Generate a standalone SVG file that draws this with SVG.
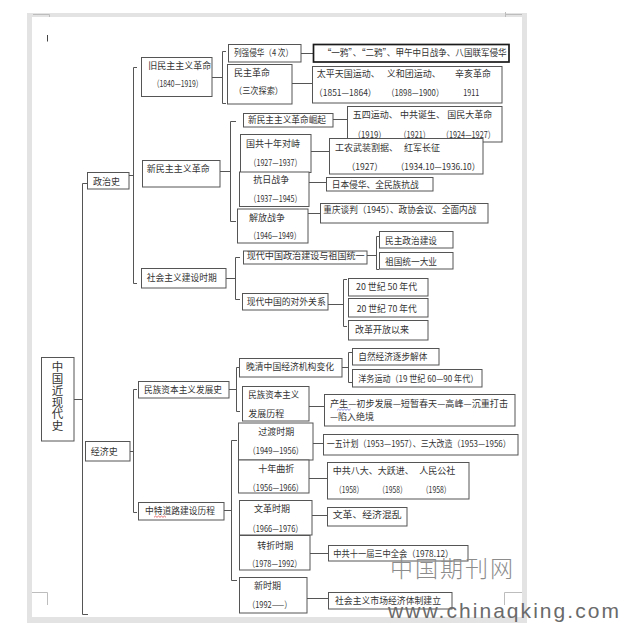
<svg xmlns="http://www.w3.org/2000/svg" width="619" height="627" viewBox="0 0 619 627">
<defs>
<style>
.b{fill:#fff;stroke:#555;stroke-width:1}
.bb{fill:#fff;stroke:#1a1a1a;stroke-width:1.7}
.c{fill:none;stroke:#555;stroke-width:1}
.t{font-family:"Noto Sans CJK SC","Noto Sans",sans-serif;font-size:9px;fill:#333}
.r{font-family:"Noto Sans CJK SC","Noto Sans",sans-serif;font-size:11.5px;fill:#333;writing-mode:vertical-rl;letter-spacing:0.3px}
.m{fill:none;stroke:#bdbdbd;stroke-width:1}
</style>
</defs>
<rect width="619" height="627" fill="#fff"/>
<g id="page">
<rect x="27" y="13" width="500" height="610" fill="#e3e3e3"/>
<rect x="32" y="17" width="490" height="600" fill="#fff"/>
<path class="m" d="M33,14.5H49.5V17"/>
<path class="m" d="M505.5,12V17M505,14.5H522"/>
<path class="m" d="M32,592.5H47.5V605"/>
<path class="m" d="M522,592.5H504.5V605"/>
<path d="M47.5,35V41.5" stroke="#444" stroke-width="1"/>
</g>

<g id="connectors">
<path class="c" d="M87,183.5H82.5V614.5H88M74,399.5H82.5"/>
<path class="c" d="M137,67.5H133.5V283.5H137M129,175.5H133.5"/>
<path class="c" d="M137,389.5H133.5V512.5H137M130,451.5H133.5"/>
<path class="c" d="M226,51.5H222.5V103.5H226M212,77.5H222.5"/>
<path class="c" d="M301,53.5H313M292,83.5H312"/>
<path class="c" d="M236,121.5H230.5V221.5H236M220,171.5H230.5"/>
<path class="c" d="M333,119.5H347M311,151.5H329M309,182.5H326M308,213.5H320"/>
<path class="c" d="M240,257.5H235.5V299.5H240M226,278.5H235.5"/>
<path class="c" d="M379,236.5H376.5V269.5H379M367,255.5H376.5"/>
<path class="c" d="M347,279.5H343.5V326.5H347M328,304.5H343.5"/>
<path class="c" d="M240,367.5H236.5V411.5H240M229,389.5H236.5"/>
<path class="c" d="M352,352.5H348.5V382.5H352M342,367.5H348.5"/>
<path class="c" d="M309,406.5H324"/>
<path class="c" d="M237,440.5H231.5V580.5H237M224,510.5H231.5"/>
<path class="c" d="M313,443.5H323M309,478.5H327M312,515.5H327M310,553.5H328M307,598.5H328"/>
</g>

<g id="n-root">
<rect class="b" x="41.5" y="357.5" width="32.5" height="83.5"/>
<text class="r" x="57.5" y="361">中国近现代史</text>
</g>

<g id="n-zhengzhishi">
<rect class="b" x="87.5" y="172.5" width="41.5" height="16.5"/>
<text class="t" x="93" y="184.8">政治史</text>
</g>
<g id="n-jingjishi">
<rect class="b" x="85.5" y="441.5" width="44.5" height="19.5"/>
<text class="t" x="90.7" y="454.6">经济史</text>
</g>

<g id="n-jiuminzhu">
<rect class="b" x="141.5" y="57.5" width="70.5" height="39"/>
<text class="t" x="148.3" y="69">旧民主主义革命</text>
<text class="t" x="152.7" y="87.3" textLength="50" lengthAdjust="spacingAndGlyphs">（1840—1919）</text>
</g>
<g id="n-lieqiang">
<rect class="b" x="228.5" y="44.5" width="72.5" height="17.5"/>
<text class="t" x="234" y="56" textLength="59" lengthAdjust="spacingAndGlyphs">列强侵华（4 次）</text>
</g>
<g id="n-yiya">
<rect class="bb" x="313.5" y="44.5" width="195.5" height="17.5"/>
<text class="t" x="322.7" y="56" textLength="184" lengthAdjust="spacingAndGlyphs">“一鸦”、“二鸦”、甲午中日战争、八国联军侵华</text>
</g>
<g id="n-minzhugeming">
<rect class="b" x="227.5" y="64.5" width="64.5" height="39.5"/>
<text class="t" x="234" y="76.3">民主革命</text>
<text class="t" x="234" y="94.3" textLength="49" lengthAdjust="spacingAndGlyphs">（三次探索）</text>
</g>
<g id="n-taiping">
<rect class="b" x="312.5" y="66.5" width="189.5" height="36.5"/>
<text class="t" x="316.7" y="77.3">太平天国运动、</text>
<text class="t" x="386.7" y="77.3">义和团运动、</text>
<text class="t" x="455" y="77.3">辛亥革命</text>
<text class="t" x="314.3" y="96.3" textLength="62" lengthAdjust="spacingAndGlyphs">（1851—1864）</text>
<text class="t" x="386.7" y="96.3" textLength="57" lengthAdjust="spacingAndGlyphs">（1898—1900）</text>
<text class="t" x="463.3" y="96.3" textLength="16" lengthAdjust="spacingAndGlyphs">1911</text>
</g>

<g id="n-xinminzhu">
<rect class="b" x="142.5" y="160.5" width="77.5" height="26.5"/>
<text class="t" x="146.7" y="171.6">新民主主义革命</text>
</g>
<g id="n-jueqi">
<rect class="b" x="243.5" y="113.5" width="89.5" height="13.5"/>
<text class="t" x="248" y="122.6" textLength="78" lengthAdjust="spacingAndGlyphs">新民主主义革命崛起</text>
</g>
<g id="n-wusi">
<rect class="b" x="347.5" y="106.5" width="154.5" height="35.5"/>
<text class="t" x="352.7" y="118.3">五四运动、</text>
<text class="t" x="400" y="118.3">中共诞生、</text>
<text class="t" x="447.3" y="118.3">国民大革命</text>
<text class="t" x="353.3" y="137.6" textLength="32.7" lengthAdjust="spacingAndGlyphs">（1919）</text>
<text class="t" x="399.3" y="137.6" textLength="30.7" lengthAdjust="spacingAndGlyphs">（1921）</text>
<text class="t" x="441.7" y="137.6" textLength="53.3" lengthAdjust="spacingAndGlyphs">（1924—1927）</text>
</g>
<g id="n-guogong">
<rect class="b" x="240.5" y="134.5" width="70.5" height="38"/>
<text class="t" x="246" y="146.6">国共十年对峙</text>
<text class="t" x="249.3" y="165.6" textLength="52.4" lengthAdjust="spacingAndGlyphs">（1927—1937）</text>
</g>
<g id="n-gongnong">
<rect class="b" x="329.5" y="138.5" width="153.5" height="35.5"/>
<text class="t" x="335" y="151">工农武装割据、</text>
<text class="t" x="404" y="151">红军长征</text>
<text class="t" x="346.7" y="170" textLength="36" lengthAdjust="spacingAndGlyphs">（1927）</text>
<text class="t" x="396" y="170" textLength="84" lengthAdjust="spacingAndGlyphs">（1934.10—1936.10）</text>
</g>
<g id="n-kangri">
<rect class="b" x="239.5" y="172" width="69.5" height="34.5"/>
<text class="t" x="253.3" y="183.3">抗日战争</text>
<text class="t" x="249.3" y="201.6" textLength="52.4" lengthAdjust="spacingAndGlyphs">（1937—1945）</text>
</g>
<g id="n-riben">
<rect class="b" x="326.5" y="177.5" width="106.5" height="13.5"/>
<text class="t" x="331.7" y="187.6" textLength="87" lengthAdjust="spacingAndGlyphs">日本侵华、全民族抗战</text>
</g>
<g id="n-jiefang">
<rect class="b" x="237.5" y="209" width="70.5" height="34"/>
<text class="t" x="249" y="221">解放战争</text>
<text class="t" x="249.3" y="239" textLength="51.4" lengthAdjust="spacingAndGlyphs">（1946—1949）</text>
</g>
<g id="n-chongqing">
<rect class="b" x="320.5" y="203.5" width="167.5" height="19.5"/>
<text class="t" x="323.3" y="213.3" textLength="153" lengthAdjust="spacingAndGlyphs">重庆谈判（1945）、政协会议、全面内战</text>
</g>

<g id="n-shehuizhuyi">
<rect class="b" x="141.5" y="268.5" width="84.5" height="19.5"/>
<text class="t" x="146.7" y="280.6" textLength="70" lengthAdjust="spacingAndGlyphs">社会主义建设时期</text>
</g>
<g id="n-zhengzhijianshe">
<rect class="b" x="243.5" y="251" width="123.5" height="13"/>
<text class="t" x="246.7" y="258.6" textLength="118" lengthAdjust="spacingAndGlyphs">现代中国政治建设与祖国统一</text>
</g>
<g id="n-minzhuzhengzhi">
<rect class="b" x="379.5" y="231.5" width="73.5" height="16.5"/>
<text class="t" x="385" y="244" textLength="52" lengthAdjust="spacingAndGlyphs">民主政治建设</text>
</g>
<g id="n-zuguotongyi">
<rect class="b" x="379.5" y="252.5" width="73.5" height="16.5"/>
<text class="t" x="385" y="265" textLength="52" lengthAdjust="spacingAndGlyphs">祖国统一大业</text>
</g>
<g id="n-duiwai">
<rect class="b" x="242.5" y="293.5" width="85.5" height="16.5"/>
<text class="t" x="246.7" y="305" textLength="79" lengthAdjust="spacingAndGlyphs">现代中国的对外关系</text>
</g>
<g id="n-50niandai">
<rect class="b" x="348.5" y="278.5" width="79.5" height="17.5"/>
<text class="t" x="356" y="290" textLength="61" lengthAdjust="spacingAndGlyphs">20 世纪 50 年代</text>
</g>
<g id="n-70niandai">
<rect class="b" x="348.5" y="298.5" width="79.5" height="18.5"/>
<text class="t" x="356.7" y="312.3" textLength="60" lengthAdjust="spacingAndGlyphs">20 世纪 70 年代</text>
</g>
<g id="n-gaige">
<rect class="b" x="348.5" y="320.5" width="79.5" height="19.5"/>
<text class="t" x="355" y="332.6">改革开放以来</text>
</g>

<g id="n-minzuziben">
<rect class="b" x="138.5" y="381.5" width="90.5" height="16.5"/>
<text class="t" x="144" y="392.8" textLength="78" lengthAdjust="spacingAndGlyphs">民族资本主义发展史</text>
</g>
<g id="n-wanqing">
<rect class="b" x="239.5" y="358.5" width="102.5" height="18.5"/>
<text class="t" x="246" y="370" textLength="88" lengthAdjust="spacingAndGlyphs">晚清中国经济机构变化</text>
</g>
<g id="n-ziran">
<rect class="b" x="352.5" y="348.5" width="86.5" height="16.5"/>
<text class="t" x="358.3" y="360" textLength="69" lengthAdjust="spacingAndGlyphs">自然经济逐步解体</text>
</g>
<g id="n-yangwu">
<rect class="b" x="352.5" y="369.5" width="129.5" height="17.5"/>
<text class="t" x="358.3" y="381.6" textLength="120" lengthAdjust="spacingAndGlyphs">洋务运动（19 世纪 60—90 年代）</text>
</g>
<g id="n-fazhanlicheng">
<rect class="b" x="242.5" y="386.5" width="66.5" height="34.5"/>
<text class="t" x="248.3" y="398.3" textLength="51" lengthAdjust="spacingAndGlyphs">民族资本主义</text>
<text class="t" x="248.3" y="416.6">发展历程</text>
</g>
<g id="n-chansheng">
<rect class="b" x="324.5" y="394.5" width="190.5" height="31.5"/>
<text class="t" x="330" y="407.3" textLength="178" lengthAdjust="spacingAndGlyphs">产生—初步发展—短暂春天—高峰—沉重打击</text>
<text class="t" x="330" y="419.6">—陷入绝境</text>
<path d="M337,410.3l1.5,-1.2l1.5,1.2l1.5,-1.2l1.5,1.2l1.5,-1.2l1.5,1.2l1.5,-1.2l1.5,1.2l1.5,-1.2" fill="none" stroke="#5b5bd6" stroke-width="0.7"/>
</g>

<g id="n-zhongte">
<rect class="b" x="138.5" y="502.5" width="85.5" height="17.5"/>
<text class="t" x="145" y="514.3" textLength="70" lengthAdjust="spacingAndGlyphs">中特道路建设历程</text>
<path d="M154,517.3l1.5,-1.2l1.5,1.2l1.5,-1.2l1.5,1.2l1.5,-1.2l1.5,1.2l1.5,-1.2l1.5,1.2" fill="none" stroke="#d33" stroke-width="0.7"/>
</g>
<g id="n-guodu">
<rect class="b" x="238.5" y="423" width="74.5" height="37"/>
<text class="t" x="258.3" y="435">过渡时期</text>
<text class="t" x="248.3" y="454" textLength="55" lengthAdjust="spacingAndGlyphs">（1949—1956）</text>
</g>
<g id="n-yiwu">
<rect class="b" x="323.5" y="434.5" width="194.5" height="20.5"/>
<text class="t" x="326.7" y="446.6" textLength="184" lengthAdjust="spacingAndGlyphs">一五计划（1953—1957）、三大改造（1953—1956）</text>
</g>
<g id="n-shinian">
<rect class="b" x="238.5" y="460" width="70.5" height="33"/>
<text class="t" x="258.3" y="471.6">十年曲折</text>
<text class="t" x="248.3" y="491" textLength="55" lengthAdjust="spacingAndGlyphs">（1956—1966）</text>
</g>
<g id="n-bada">
<rect class="b" x="327.5" y="462.5" width="141.5" height="36.5"/>
<text class="t" x="332.7" y="474">中共八大、大跃进、</text>
<text class="t" x="419.3" y="474">人民公社</text>
<text class="t" x="335" y="493.3" textLength="28.3" lengthAdjust="spacingAndGlyphs">（1958）</text>
<text class="t" x="378.3" y="493.3" textLength="28.4" lengthAdjust="spacingAndGlyphs">（1958）</text>
<text class="t" x="421.7" y="493.3" textLength="29" lengthAdjust="spacingAndGlyphs">（1958）</text>
</g>
<g id="n-wenge">
<rect class="b" x="239.5" y="500.5" width="72.5" height="34.5"/>
<text class="t" x="254" y="512.3">文革时期</text>
<text class="t" x="248.3" y="531.6" textLength="54.4" lengthAdjust="spacingAndGlyphs">（1966—1976）</text>
</g>
<g id="n-wengejingji">
<rect class="b" x="327.5" y="507.5" width="79.5" height="18.5"/>
<text class="t" x="332.7" y="518.3" textLength="69" lengthAdjust="spacingAndGlyphs">文革、经济混乱</text>
</g>
<g id="n-zhuanzhe">
<rect class="b" x="239.5" y="535.5" width="70.5" height="34.5"/>
<text class="t" x="257.3" y="549.3">转折时期</text>
<text class="t" x="247.7" y="567.3" textLength="54" lengthAdjust="spacingAndGlyphs">（1978—1992）</text>
</g>
<g id="n-sanzhong">
<rect class="b" x="328.5" y="545.5" width="139.5" height="15.5"/>
<text class="t" x="333.3" y="556.8" textLength="120" lengthAdjust="spacingAndGlyphs">中共十一届三中全会（1978.12）</text>
</g>
<g id="n-xinshiqi">
<rect class="b" x="239.5" y="577.5" width="67.5" height="35.5"/>
<text class="t" x="254" y="589.3">新时期</text>
<text class="t" x="247.7" y="608.3" textLength="44" lengthAdjust="spacingAndGlyphs">（1992——）</text>
</g>
<g id="n-shichang">
<rect class="b" x="328.5" y="592.5" width="123.5" height="16.5"/>
<text class="t" x="335" y="603.8" textLength="106" lengthAdjust="spacingAndGlyphs">社会主义市场经济体制建立</text>
</g>

<g id="watermark">
<text x="390" y="577" textLength="123" style="font-family:'Noto Sans CJK SC',sans-serif;font-size:23px;font-weight:300;fill:#8c8c8c">中国期刊网</text>
<text x="388" y="618" textLength="231" style="font-family:'Liberation Sans',Arial,sans-serif;font-size:21px;fill:#6a6a6a">www.chinaqking.com</text>
</g>
</svg>
